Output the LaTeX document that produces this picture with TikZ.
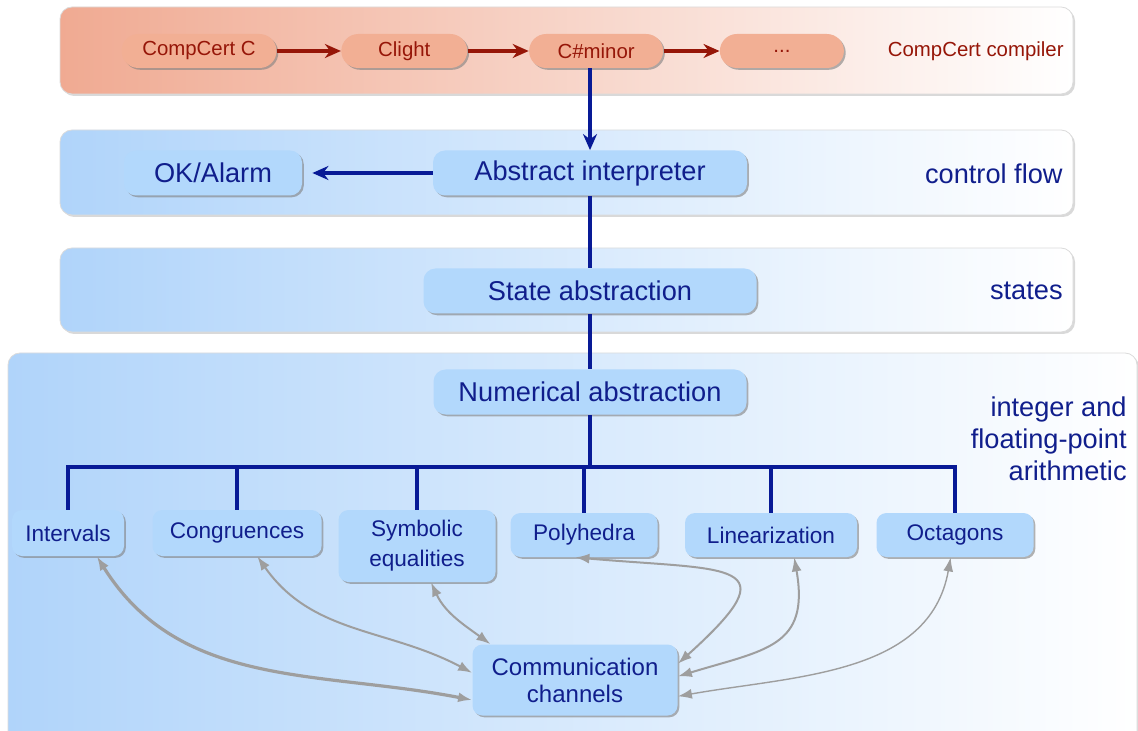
\documentclass[tikz,border=0pt]{standalone}
\usepackage{fontspec}
\setmainfont{Liberation Sans}
\usepackage{tikz}
\usetikzlibrary{positioning,shadows,calc,arrows.meta}
\definecolor{ccred}{RGB}{150,22,8}
\definecolor{ccsalmon}{RGB}{242,175,148}
\definecolor{ccpanel}{RGB}{240,170,146}
\definecolor{abblue}{RGB}{8,26,150}
\definecolor{abtext}{RGB}{16,30,140}
\definecolor{abfill}{RGB}{178,216,252}
\definecolor{abpanel}{RGB}{176,212,250}
\definecolor{chgrey}{RGB}{158,158,158}
\newcommand\bigf{\fontsize{13.6}{16}\selectfont}
\newcommand\subf{\fontsize{11.3}{15}\selectfont}
\newcommand\smallf{\fontsize{10.2}{12}\selectfont}
\newcommand\commf{\fontsize{12}{13.5}\selectfont}

\begin{document}
\begin{tikzpicture}[x=0.5pt,y=0.5pt,>={Stealth[length=8pt,width=7pt]}]
  \tikzstyle{panel}=[rounded corners=6pt,draw=black!14,right color=white,drop shadow={shadow xshift=1pt,shadow yshift=-1pt,opacity=0.3}]
  \tikzstyle{pass}=[rounded corners=8.5pt,fill=ccsalmon,text=ccred,minimum height=17pt,font=\smallf,drop shadow={shadow xshift=0.9pt,shadow yshift=-0.9pt,opacity=0.6}]
  \tikzstyle{dom}=[rounded corners=6pt,fill=abfill,text=abtext,minimum height=22.5pt,font=\bigf,drop shadow={shadow xshift=0.9pt,shadow yshift=-0.9pt,opacity=0.6}]
  \tikzstyle{sub}=[dom,rounded corners=5pt,minimum height=23pt,font=\subf,align=center]
  \tikzstyle{tag}=[text=abtext,font=\bigf,anchor=east,align=right,inner sep=0pt]
  \tikzstyle{flow}=[->,draw=ccred,fill=ccred,line width=2pt]
  \tikzstyle{tree}=[draw=abblue,line width=2pt]
  \tikzstyle{chan}=[{Latex[length=7pt,width=5pt]}-{Latex[length=7pt,width=5pt]},draw=chgrey,line width=1pt]

  \useasboundingbox (0,0) rectangle (1138,-731);

  % layers
  \path[panel,left color=ccpanel] (60,-7) rectangle (1073,-94);
  \path[panel,left color=abpanel] (60,-130) rectangle (1073,-215);
  \path[panel,left color=abpanel] (60,-248) rectangle (1073,-332);
  \path[panel,left color=abpanel] (8,-353) rectangle (1137,-760);

  % compiler passes
  \node[pass,minimum width=77.5pt] (cc) at (199,-51) {CompCert C};
  \node[pass,minimum width=63pt,right=32pt of cc] (cl) {Clight};
  \node[pass,minimum width=67pt,right=30.5pt of cl] (cm) {C\#minor};
  \node[pass,minimum width=62pt,right=28pt of cm] (etc) {...};
  \node[tag,text=ccred,font=\smallf] (comp) at (1064,-51) {CompCert compiler};

  % analyzer
  \node[dom,minimum width=89pt] (ok) at (213,-173) {OK/Alarm};
  \node[dom,minimum width=157pt] (ai) at (590,-173) {Abstract interpreter};
  \node[tag] (cf) at (1063,-174) {control flow};
  \node[dom,minimum width=166.5pt] (sa) at (590,-291) {State abstraction};
  \node[tag] (st) at (1063,-291) {states};
  \node[dom,minimum width=156.5pt] (na) at (590,-392) {Numerical abstraction};
  \node[tag] (ar) at (1127,-439) {integer and\\floating-point\\arithmetic};

  % numerical domains
  \node[sub,minimum width=56pt] (itv) at (68,-533) {Intervals};
  \node[sub,minimum width=84.5pt] (cong) at (237,-533) {Congruences};
  \node[sub,minimum width=78.5pt,minimum height=36pt] (sym) at (417,-546) {Symbolic\\equalities};
  \node[sub,minimum width=73.5pt,minimum height=22pt] (poly) at (584,-535) {Polyhedra};
  \node[sub,minimum width=86pt,minimum height=22pt] (lin) at (771,-535) {Linearization};
  \node[sub,minimum width=78.5pt,minimum height=22pt] (oct) at (955,-535) {Octagons};
  \node[sub,font=\commf,minimum width=102.5pt,minimum height=35.5pt] (comm) at (575,-680) {Communication\\channels};

  \draw[flow] (cc) -- (cl);
  \draw[flow] (cl) -- (cm);
  \draw[flow] (cm) -- (etc);
  \draw[tree,->] (cm.south -| ai) -- (ai);
  \draw[tree,->,shorten >=5pt] (ai) -- (ok);
  \draw[tree] (ai) -- (sa);
  \draw[tree] (sa) -- (na);
  \coordinate (bus) at (0,-467);
  \draw[tree] (na) -- (na |- bus);
  \draw[tree] (itv.north) -- (itv.north |- bus) -- (oct.north |- bus) -- (oct.north);
  \foreach \n in {cong,sym,poly,lin}
    \draw[tree] (\n.north) -- (\n.north |- bus);

  \draw[chan,line width=1.6pt] (itv.-39) to[out=-58,in=169] (comm.191);
  \draw[chan] (cong.-49) to[out=-55,in=152] (comm.176);
  \draw[chan] (sym.-69) to[out=-65,in=144] (comm.157);
  \draw[chan] (poly.-111) to[out=-5,in=42,looseness=2.7] (comm.9);
  \draw[chan] (lin.-44) to[out=-80,in=17,looseness=1.4] (comm.2);
  \draw[chan,line width=0.7pt] (oct.-101) to[out=-100,in=10] (comm.-9);
\end{tikzpicture}
\end{document}
